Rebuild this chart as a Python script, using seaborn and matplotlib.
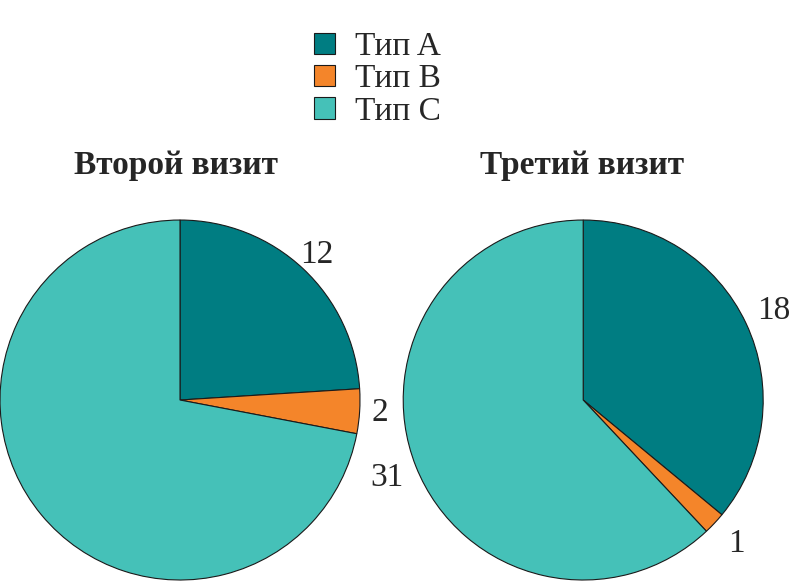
import matplotlib
matplotlib.use("Agg")
import matplotlib.pyplot as plt
import seaborn as sns

categories = ['Тип A', 'Тип B', 'Тип C']
visit2_values = [12, 2, 36]
visit3_values = [18, 1, 31]
visit2_labels = ['12', '2', '']
visit3_labels = ['18', '1', '31']
titles = ['Второй визит', 'Третий визит']

sns.set_theme(style="white")
plt.rcParams['font.family'] = ['Liberation Serif', 'DejaVu Serif']
colors = ['#007d82', '#f4852a', '#45c1b8']

fig = plt.figure(figsize=(8, 5.81), dpi=100)
ax1 = fig.add_axes([0.0, 0.0017, 0.45, 0.6196])
ax2 = fig.add_axes([0.504, 0.0017, 0.45, 0.6196])

for ax, vals, labs, dist in [(ax1, visit2_values, visit2_labels, 1.11),
                             (ax2, visit3_values, visit3_labels, 1.17)]:
    wedges, texts = ax.pie(vals, labels=labs, colors=colors, startangle=90,
                           counterclock=False, labeldistance=dist,
                           wedgeprops={'edgecolor': '#1a1a1a', 'linewidth': 0.8},
                           textprops={'fontsize': 24})
    for t in texts:
        t.set_ha('center')
        t.set_va('center')
    ax.set_xlim(-1, 1)
    ax.set_ylim(-1, 1)
    ax.set_aspect('equal')
    ax.axis('off')

fig.text(0.22, 0.715, titles[0], ha='center', va='center', fontsize=24, fontweight='bold')
fig.text(0.727, 0.715, titles[1], ha='center', va='center', fontsize=24, fontweight='bold')

fig.legend(wedges, categories, loc='upper center', bbox_to_anchor=(0.472, 0.997),
           frameon=False, fontsize=24, handlelength=0.62, handleheight=0.62,
           handletextpad=0.6, labelspacing=0.05)

fig.savefig('out.png', dpi=100)
